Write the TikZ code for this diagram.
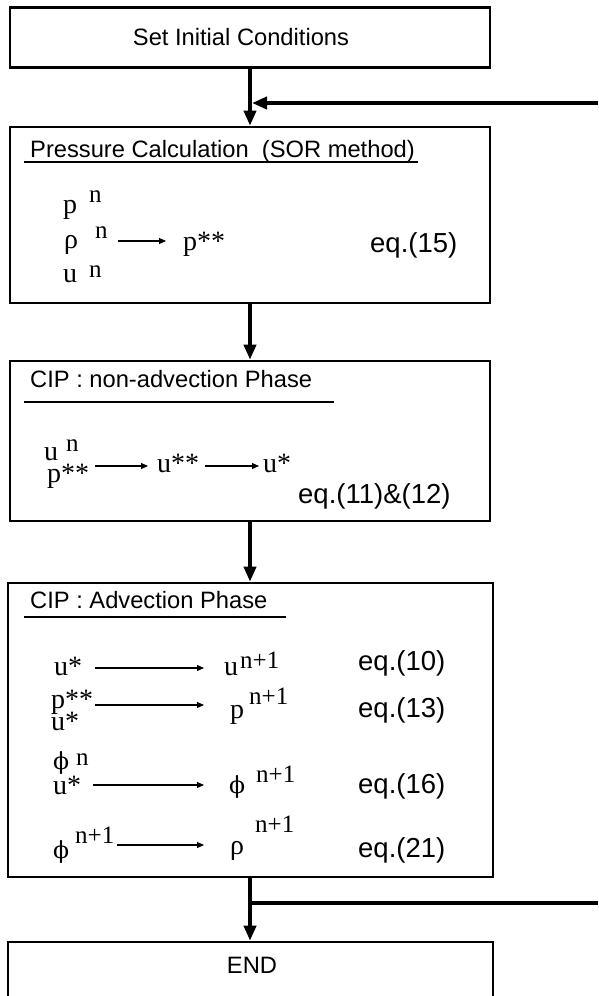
\documentclass[tikz,border=0pt]{standalone}
\usepackage{fontspec}
\setmainfont{Liberation Serif}
\setsansfont{Liberation Sans}
\newfontfamily\phifont{DejaVu Serif}
\usetikzlibrary{arrows.meta}

\tikzset{
  box/.style={draw, line width=2.6pt, rectangle, inner sep=0pt},
  flow/.style={line width=4pt, -{Triangle[length=15pt,width=12pt]}},
  loopline/.style={line width=4pt},
  thin/.style={line width=1.1pt, -{Triangle[length=7pt,width=6pt]}},
  uline/.style={line width=1.6pt},
  title/.style={anchor=base west, inner sep=0pt, font=\sffamily\fontsize{23.7}{28}\selectfont},
  label/.style={anchor=base, inner sep=0pt, font=\sffamily\fontsize{23.7}{28}\selectfont},
  eqn/.style={anchor=base west, inner sep=0pt, font=\sffamily\fontsize{27.5}{32}\selectfont},
  sym/.style={anchor=base west, inner sep=0pt, font=\rmfamily\fontsize{28}{32}\selectfont},
  phi/.style={anchor=base west, inner sep=0pt, font=\phifont\fontsize{23.5}{28}\selectfont},
  sup/.style={anchor=base west, inner sep=0pt, font=\rmfamily\fontsize{25}{30}\selectfont},
}

\begin{document}
\begin{tikzpicture}[x=1pt,y=-1pt]
\useasboundingbox (0,0) rectangle (598,996);

% main column and the loop-back lines
\coordinate (col) at (250,0);
\coordinate (loopR) at (598,103);
\coordinate (loopin) at (252,103);
\coordinate (exitR) at (598,903);

% ---- boxes ----
\node[box, minimum width=480pt, minimum height=60pt] (b1) at (250,37.5) {};
\node[box, minimum width=480pt, minimum height=176pt] (b2) at (250,215) {};
\node[box, minimum width=480pt, minimum height=160pt] (b3) at (250,441) {};
\node[box, minimum width=485pt, minimum height=294pt] (b4) at (250.5,730) {};
\node[box, minimum width=485pt, minimum height=80pt] (b5) at (250.5,982) {};

% ---- box 1 ----
\node[label] (t1) at (241,45) {Set Initial Conditions};

% ---- box 2: pressure ----
\node[title] (t2) at (30,157) {Pressure Calculation\ \ (SOR method)};
\coordinate (u2a) at (24,162); \coordinate (u2b) at (418,162);
\draw[uline] (u2a) -- (u2b);
\node[sym] (p2) at (63,213) {p};
\node[sup] (p2n) at (89,202) {n};
\node[sym] (r2) at (64,248) {ρ};
\node[sup] (r2n) at (95,238) {n};
\node[sym] (u2) at (63,282) {u};
\node[sup] (u2n) at (89,277) {n};
\coordinate (a2s) at (118,241); \coordinate (a2e) at (166,241);
\draw[thin] (a2s) -- (a2e);
\node[sym] (pss2) at (183,250) {p**};
\node[eqn] (e15) at (370,252) {eq.(15)};

% ---- box 3: non-advection ----
\node[title] (t3) at (30,387) {CIP : non-advection Phase};
\coordinate (u3a) at (24,402); \coordinate (u3b) at (334,402);
\draw[uline] (u3a) -- (u3b);
\node[sym] (u3) at (44,460) {u};
\node[sup] (u3n) at (66,451) {n};
\node[sym] (p3) at (47,482) {p**};
\coordinate (a3s) at (95,466); \coordinate (a3e) at (148,466);
\draw[thin] (a3s) -- (a3e);
\node[sym] (uss3) at (157,472) {u**};
\coordinate (a3t) at (205,466); \coordinate (a3f) at (259,466);
\draw[thin] (a3t) -- (a3f);
\node[sym] (us3) at (263,472) {u*};
\node[eqn] (e1112) at (298,503) {eq.(11)\&(12)};

% ---- box 4: advection ----
\node[title] (t4) at (30,608) {CIP : Advection Phase};
\coordinate (u4a) at (24,617); \coordinate (u4b) at (286,617);
\draw[uline] (u4a) -- (u4b);
% row 1
\node[sym] (r1a) at (54,675) {u*};
\coordinate (r1s) at (95,668); \coordinate (r1e) at (204,668);
\draw[thin] (r1s) -- (r1e);
\node[sym] (r1b) at (224,675) {u};
\node[sup] (r1bn) at (240,668) {n+1};
\node[eqn] (e10) at (358,670) {eq.(10)};
% row 2
\node[sym] (r2a) at (51,708) {p**};
\node[sym] (r2c) at (51,730) {u*};
\coordinate (r2s) at (95,705); \coordinate (r2e) at (204,705);
\draw[thin] (r2s) -- (r2e);
\node[sym] (r2b) at (230,718) {p};
\node[sup] (r2bn) at (249,704) {n+1};
\node[eqn] (e13) at (358,717) {eq.(13)};
% row 3
\node[phi] (r3a) at (53,769) {ϕ};
\node[sup] (r3an) at (76,765) {n};
\node[sym] (r3c) at (53,794) {u*};
\coordinate (r3s) at (93,785); \coordinate (r3e) at (204,785);
\draw[thin] (r3s) -- (r3e);
\node[phi] (r3b) at (229,793) {ϕ};
\node[sup] (r3bn) at (256,782) {n+1};
\node[eqn] (e16) at (358,793) {eq.(16)};
% row 4
\node[phi] (r4a) at (53,858) {ϕ};
\node[sup] (r4an) at (75,843) {n+1};
\coordinate (r4s) at (117,845); \coordinate (r4e) at (204,845);
\draw[thin] (r4s) -- (r4e);
\node[sym] (r4b) at (230,854) {ρ};
\node[sup] (r4bn) at (255,832) {n+1};
\node[eqn] (e21) at (358,857) {eq.(21)};

% ---- END ----
\node[label] (t5) at (252,973) {END};

% ---- flow arrows ----
\draw[flow] (b1.south -| col) -- (b2.north -| col);
\draw[flow] (b2.south -| col) -- (b3.north -| col);
\draw[flow] (b3.south -| col) -- (b4.north -| col);
\draw[flow] (b4.south -| col) -- (b5.north -| col);
\draw[flow] (loopR) -- (loopin);
\draw[loopline] (col |- exitR) -- (exitR);
\end{tikzpicture}
\end{document}
